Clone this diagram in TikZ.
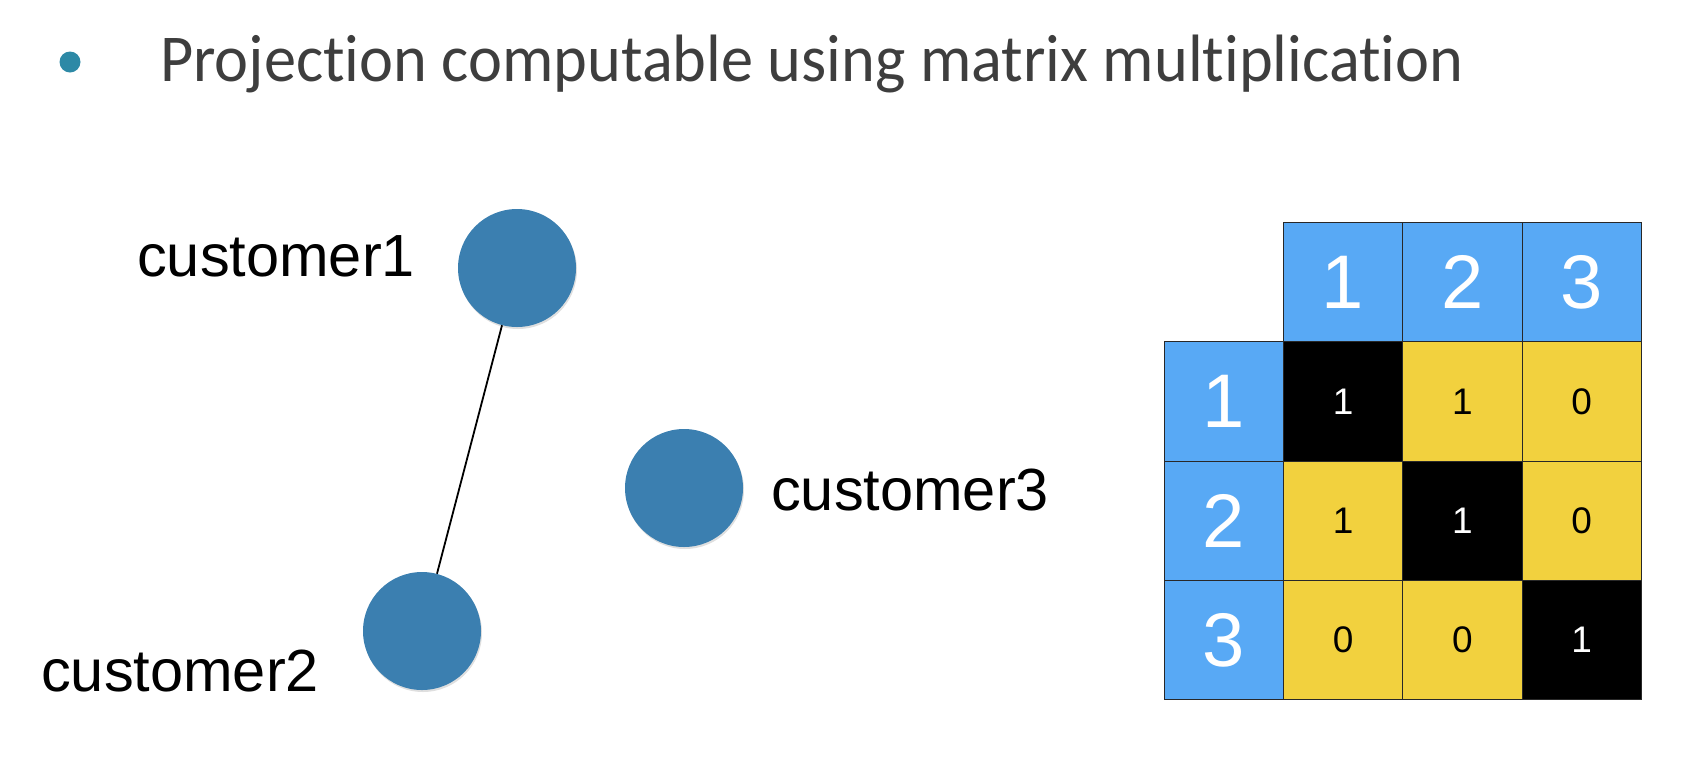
\documentclass[tikz,border=0pt]{standalone}
\usepackage{fontspec}
\setmainfont{Liberation Sans}
\newfontfamily\titlefont[FakeStretch=0.96, Ligatures=NoCommon, RawFeature=-liga]{Carlito}
\usetikzlibrary{shadows}
\definecolor{nodeblue}{RGB}{59,127,176}
\definecolor{hdrblue}{RGB}{88,169,245}
\definecolor{cellyellow}{RGB}{242,209,62}
\definecolor{titlegray}{RGB}{62,62,62}
\definecolor{bulletteal}{RGB}{45,137,166}
\definecolor{gridline}{RGB}{40,40,40}
\tikzset{
  custnode/.style={circle, fill=nodeblue, minimum size=118pt, inner sep=0pt,
    drop shadow={shadow xshift=1pt, shadow yshift=-2pt, opacity=0.25}},
  custlabel/.style={anchor=base west, inner sep=0pt, font=\fontsize{59.5}{60}\selectfont},
  cell/.style={draw=gridline, line width=0.9pt, minimum size=119.25pt, inner sep=0pt, anchor=north west},
  hdrcell/.style={cell, fill=hdrblue, text=white, font=\fontsize{76}{76}\selectfont},
  onecell/.style={cell, fill=black, text=white, font=\fontsize{37}{37}\selectfont},
  zerocell/.style={cell, fill=cellyellow, text=black, font=\fontsize{37}{37}\selectfont},
  edge/.style={draw=black, line width=1.8pt}
}
\begin{document}
\begin{tikzpicture}[x=1pt, y=-1pt]
\useasboundingbox (0,0) rectangle (1694,756);
% title
\fill[bulletteal] (70,62) circle [radius=10.5];
\node[anchor=base west, inner sep=0pt, text=titlegray, font=\titlefont\fontsize{67}{67}\selectfont] (title) at (160,81) {Projection computable using matrix multiplication};
% graph
\node[custnode] (c1) at (517,268) {};
\node[custnode] (c3) at (684,488) {};
\node[custnode] (c2) at (422,631) {};
\draw[edge] (c1) -- (c2);
\node[custlabel] (l1) at (137,276) {customer1};
\node[custlabel] (l2) at (41,691) {customer2};
\node[custlabel] (l3) at (771,510) {customer3};
% matrix header row
\node[hdrcell] (h1) at (1283,222) {1};
\node[hdrcell] (h2) at (1402.25,222) {2};
\node[hdrcell] (h3) at (1521.5,222) {3};
% row headers
\node[hdrcell] (r1) at (1164,341.25) {1};
\node[hdrcell] (r2) at (1164,460.5) {2};
\node[hdrcell] (r3) at (1164,579.75) {3};
% data cells
\node[onecell]  (m11) at (1283,341.25) {1};
\node[zerocell] (m12) at (1402.25,341.25) {1};
\node[zerocell] (m13) at (1521.5,341.25) {0};
\node[zerocell] (m21) at (1283,460.5) {1};
\node[onecell]  (m22) at (1402.25,460.5) {1};
\node[zerocell] (m23) at (1521.5,460.5) {0};
\node[zerocell] (m31) at (1283,579.75) {0};
\node[zerocell] (m32) at (1402.25,579.75) {0};
\node[onecell]  (m33) at (1521.5,579.75) {1};
\end{tikzpicture}
\end{document}
